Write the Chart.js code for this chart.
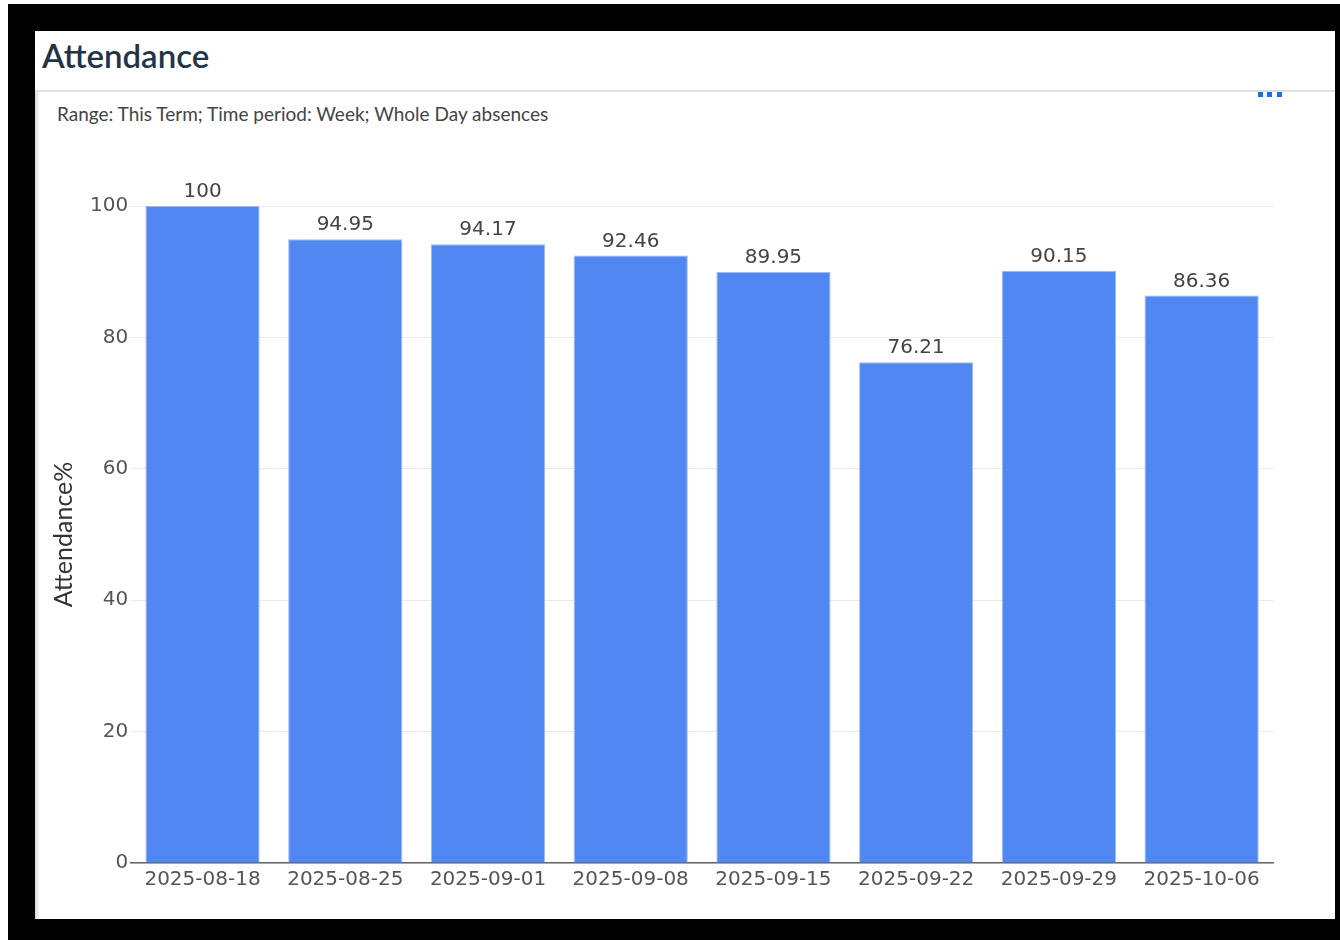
<!DOCTYPE html>
<html>
<head>
<meta charset="utf-8">
<script src="https://cdn.jsdelivr.net/npm/chart.js@4"></script>
<style>
  html, body { margin: 0; padding: 0; background: #fff; }
  body { width: 1340px; height: 940px; position: relative; overflow: hidden; }
  #frame { position: absolute; left: 8px; top: 4px; width: 1332px; height: 936px; background: #000; }
  #panel { position: absolute; left: 35px; top: 31px; width: 1300px; height: 888px; background: #fff; }
  #title { position: absolute; left: 42px; top: 35px; font: 600 33px "Lato", sans-serif; color: #243447; }
  #sep { position: absolute; left: 35px; top: 90px; width: 1300px; height: 2px; background: #dde0e5; }
  #edge { position: absolute; left: 35px; top: 92px; width: 4px; height: 827px; background: linear-gradient(to right, #d6dae1, #f4f5f7); }
  #subtitle { position: absolute; left: 57px; top: 102px; font: 19px "Lato", sans-serif; color: #444; }
  .dot { position: absolute; top: 92px; width: 5px; height: 5px; background: #1b6fe0; }
  #chart { position: absolute; left: 40px; top: 130px; }
</style>
</head>
<body>
<div id="frame"></div>
<div id="panel"></div>
<div id="title">Attendance</div>
<div id="sep"></div>
<div id="edge"></div>
<div id="subtitle">Range: This Term; Time period: Week; Whole Day absences</div>
<div class="dot" style="left:1258px"></div>
<div class="dot" style="left:1267px"></div>
<div class="dot" style="left:1277px"></div>
<canvas id="chart" width="1280" height="789"></canvas>
<script>
// weeks and attendance %
const weeks = ["2025-08-18", "2025-08-25", "2025-09-01", "2025-09-08", "2025-09-15", "2025-09-22", "2025-09-29", "2025-10-06"];
const attendance = [100, 94.95, 94.17, 92.46, 89.95, 76.21, 90.15, 86.36];
const yTicks = [0, 20, 40, 60, 80, 100];

// value labels on top of bars
const barLabels = {
  id: "barLabels",
  afterDatasetsDraw(chart) {
    const ctx = chart.ctx;
    ctx.save();
    ctx.font = "20px 'DejaVu Sans', sans-serif";
    ctx.fillStyle = "#444";
    ctx.textAlign = "center";
    ctx.textBaseline = "alphabetic";
    chart.getDatasetMeta(0).data.forEach((bar, i) => {
      ctx.fillText(String(attendance[i]), bar.x, bar.y - 9);
    });
    ctx.restore();
  }
};

new Chart(document.getElementById("chart"), {
  type: "bar",
  data: {
    labels: weeks,
    datasets: [{
      data: attendance,
      backgroundColor: "#5087f0",
      borderColor: "#9bbaf6",
      borderWidth: 1,
      barPercentage: 0.8,
      categoryPercentage: 1
    }]
  },
  options: {
    responsive: false,
    animation: false,
    layout: { padding: { top: 76, right: 47, bottom: 22, left: 9 } },
    plugins: { legend: { display: false }, tooltip: { enabled: false } },
    scales: {
      x: {
        grid: { display: false, drawTicks: false },
        border: { color: "#666", width: 1.5 },
        ticks: { color: "#555", padding: 5, font: { family: "DejaVu Sans", size: 20 } }
      },
      y: {
        min: 0,
        max: 100,
        afterBuildTicks: axis => { axis.ticks = yTicks.map(v => ({ value: v })); },
        grid: { color: "#ebebeb", drawTicks: false },
        border: { display: false },
        ticks: { color: "#555", padding: 3, font: { family: "DejaVu Sans", size: 20 } },
        title: {
          display: true,
          text: "Attendance%",
          color: "#333",
          padding: { top: 0, bottom: 8 },
          font: { family: "Lato", size: 25 }
        }
      }
    }
  },
  plugins: [barLabels]
});
</script>
</body>
</html>
